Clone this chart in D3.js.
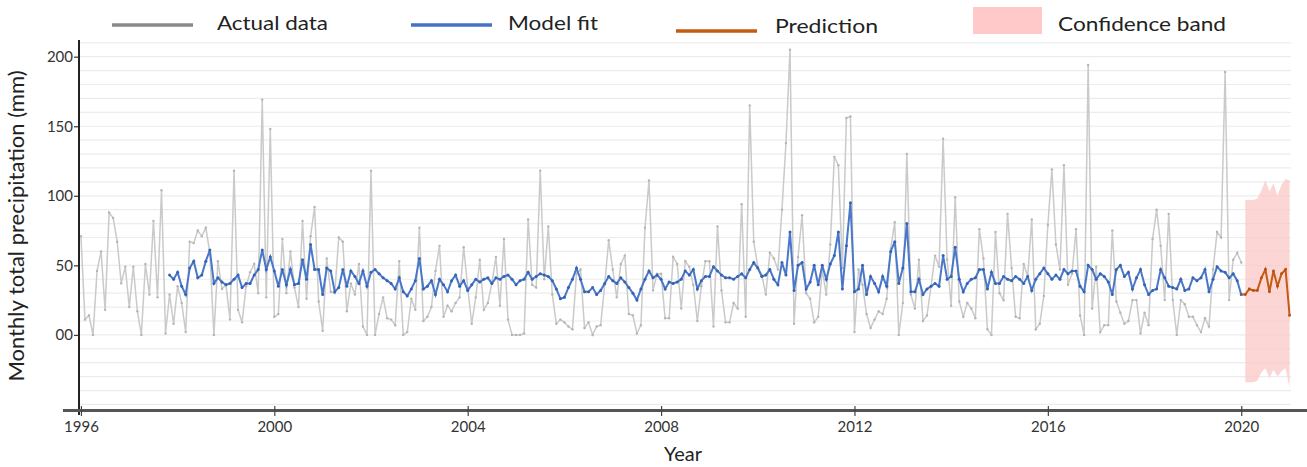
<!DOCTYPE html>
<html><head><meta charset="utf-8">
<script src="https://cdn.jsdelivr.net/npm/d3@7"></script>
<style>body{margin:0;background:#fff}svg{display:block}</style>
</head><body>
<svg id="c" width="1307" height="467"></svg>
<script>
// ---- data (monthly, index 0 = Jan 1996) ----
const startYear = 1996;
const actual = [
71,11,14,0,46,60,18,88,84,67,37,49,20,49,17,0,51,29,82,27,104,1,29,8,35,23,2,67,66,75,71,77,59,0,53,33,36,11,118,18,9,35,45,51,30,169,27,148,
13,15,69,30,60,34,20,82,26,71,92,24,3,55,31,30,70,67,17,37,29,51,6,0,118,0,15,27,12,11,7,53,0,2,26,18,77,10,13,20,46,64,13,21,17,23,27,63,34,8,
27,54,18,23,37,56,21,69,11,0,0,0,1,83,36,34,118,40,78,29,8,11,9,6,4,44,47,5,9,0,6,7,36,68,47,27,51,57,15,14,1,7,77,111,32,44,44,12,12,56,51,
19,53,49,36,10,35,53,53,6,78,32,9,9,23,19,94,13,165,67,49,43,29,59,55,47,90,138,205,8,56,86,30,26,9,13,47,29,65,128,122,48,156,157,2,47,36,15,5,11,17,15,
26,62,81,0,23,130,29,19,54,10,14,35,57,49,141,54,21,99,24,13,23,19,12,76,55,4,0,74,30,25,87,48,13,12,51,42,83,4,8,28,79,119,65,47,122,36,44,76,14,0,
194,19,49,2,7,7,75,24,16,8,10,25,25,1,16,7,69,90,64,25,87,25,0,25,22,13,13,7,2,12,6,47,74,70,189,25,54,59,52
];
const fitStart = 22;
const fit = [
43,40,45,35,29,48,53,41,43,53,61,37,41,38,36,37,40,43,34,37,37,43,47,61,47,56,
46,35,47,36,47,36,37,54,40,65,47,47,29,48,46,31,34,47,35,46,42,37,46,35,45,47,44,41,39,37,33,41,31,28,33,39,55,33,35,39,29,40,36,31,39,43,35,39,32,36,
40,38,40,41,37,41,40,42,43,40,36,39,40,45,40,42,44,43,42,39,33,26,27,34,40,48,40,31,31,34,29,32,37,42,39,37,41,38,34,30,25,33,40,46,41,43,40,33,38,37,38,
40,46,43,47,33,39,42,42,49,46,43,41,41,40,42,44,41,47,52,48,42,43,47,40,36,52,43,74,32,50,52,33,38,50,36,50,40,51,57,74,33,64,95,31,33,50,29,42,37,31,
42,35,60,67,37,48,80,31,31,40,29,33,35,37,35,57,40,42,63,40,31,37,40,41,47,47,33,45,37,37,42,40,39,42,40,37,42,32,40,44,48,44,40,43,40,47,44,46,46,35,31,
50,47,40,44,42,38,29,47,50,42,45,33,41,47,36,29,32,33,47,41,35,34,33,40,32,33,41,39,41,47,31,40,49,46,45,41,44,39,29
];
const predStart = 289;
const prediction = [29,33,32,32,41,47,31,46,35,44,47,14];
const bandStart = 289;
const bandUpper = [97,97,97,98,104,111,103,109,100,108,112,111];
const bandLower = [-34,-34,-34,-33,-27,-24,-31,-25,-30,-26,-24,-38];
const yTicks = [200,150,100,50,0];
const yTickLabels = ["200","150","100","50","00"];
const xTicks = [1996,2000,2004,2008,2012,2016,2020];
const legendLabels = ["Actual data","Model fit","Prediction","Confidence band"];
const yTitle = "Monthly total precipitation (mm)";
const xTitle = "Year";

// ---- drawing ----
const svg = d3.select("#c");
const x = d3.scaleLinear().domain([1995.96, 2021.05]).range([79, 1292]);
const y = d3.scaleLinear().domain([-54, 212]).range([410, 40]);
const t = i => startYear + i / 12;
const FONT = "Lato, 'Open Sans', sans-serif";

// gridlines
svg.append("g").selectAll("line").data(d3.range(-50, 211, 10)).join("line")
  .attr("x1", 80).attr("x2", 1291).attr("y1", d => y(d)).attr("y2", d => y(d))
  .attr("stroke", "#ececec").attr("stroke-width", 1.2);

// confidence band
const bandData = bandUpper.map((u, i) => ({t: t(bandStart + i), u, l: bandLower[i]}));
svg.append("path").datum(bandData)
  .attr("d", d3.area().x(d => x(d.t)).y0(d => y(d.l)).y1(d => y(d.u)))
  .attr("fill", "#fbcaca").attr("opacity", 0.8);

// actual
const aData = actual.map((v, i) => ({t: t(i), v}));
const line = d3.line().x(d => x(d.t)).y(d => y(d.v));
svg.append("path").datum(aData).attr("d", line)
  .attr("fill", "none").attr("stroke", "#cacaca").attr("stroke-width", 1.5);
svg.append("g").selectAll("circle").data(aData).join("circle")
  .attr("cx", d => x(d.t)).attr("cy", d => y(d.v)).attr("r", 1.2).attr("fill", "#b5b5b5");

// fit
const fData = fit.map((v, i) => ({t: t(fitStart + i), v}));
svg.append("path").datum(fData).attr("d", line)
  .attr("fill", "none").attr("stroke", "#4a78c8").attr("stroke-width", 2);
svg.append("g").selectAll("circle").data(fData).join("circle")
  .attr("cx", d => x(d.t)).attr("cy", d => y(d.v)).attr("r", 1.5).attr("fill", "#3563b3");

// prediction (joined to the last fitted point)
const pData = [fData[fData.length - 1]].concat(prediction.map((v, i) => ({t: t(predStart + i), v})));
svg.append("path").datum(pData).attr("d", line)
  .attr("fill", "none").attr("stroke", "#c55a11").attr("stroke-width", 2);
svg.append("g").selectAll("circle").data(pData.slice(1)).join("circle")
  .attr("cx", d => x(d.t)).attr("cy", d => y(d.v)).attr("r", 1.4).attr("fill", "#b54f0c");

// y axis
const yAxis = d3.axisLeft(y).tickValues(yTicks).tickSize(4).tickPadding(1)
  .tickFormat((d, i) => yTickLabels[i]);
const gy = svg.append("g").attr("transform", "translate(78,0)").call(yAxis);
gy.select(".domain").remove();
gy.selectAll(".tick line").attr("stroke", "#444").attr("stroke-width", 1.3);
gy.selectAll("text").attr("font-family", FONT).attr("font-size", 15).attr("fill", "#333");
svg.append("line").attr("x1", 79).attr("x2", 79).attr("y1", 40).attr("y2", 415)
  .attr("stroke", "#222").attr("stroke-width", 2);

// x axis
svg.append("line").attr("x1", 63).attr("x2", 1307).attr("y1", 410.5).attr("y2", 410.5)
  .attr("stroke", "#555").attr("stroke-width", 3);
const xAxis = d3.axisBottom(x).tickValues(xTicks).tickFormat(d3.format("d")).tickSize(10).tickPadding(4);
const gx = svg.append("g").attr("transform", "translate(0,406)").call(xAxis);
gx.select(".domain").remove();
gx.selectAll(".tick line").attr("stroke", "#444").attr("stroke-width", 1.2);
gx.selectAll("text").attr("font-family", FONT).attr("font-size", 15).attr("fill", "#333")
  .attr("y", 26).attr("dy", 0);

// titles
svg.append("text").attr("transform", "translate(24,226) rotate(-90)")
  .attr("text-anchor", "middle").attr("font-family", FONT)
  .attr("font-size", 22).attr("fill", "#222").text(yTitle);
svg.append("text").attr("x", 683).attr("y", 461).attr("text-anchor", "middle")
  .attr("font-family", FONT).attr("font-size", 20).attr("fill", "#222").text(xTitle);

// legend
const lg = svg.append("g").attr("font-family", FONT).attr("font-size", 20).attr("fill", "#222");
const legendLines = [
  {x1: 112, x2: 193, y: 25, c: "#8a8a8a", tx: 217, ty: 30, w: 111},
  {x1: 411, x2: 492, y: 25, c: "#4472c4", tx: 508, ty: 30, w: 90},
  {x1: 676, x2: 757, y: 31, c: "#c55a11", tx: 775, ty: 33, w: 103}
];
legendLines.forEach((d, i) => {
  lg.append("line").attr("x1", d.x1).attr("x2", d.x2).attr("y1", d.y).attr("y2", d.y)
    .attr("stroke", d.c).attr("stroke-width", 3.5);
  lg.append("text").attr("x", d.tx).attr("y", d.ty).attr("textLength", d.w)
    .attr("lengthAdjust", "spacingAndGlyphs").text(legendLabels[i]);
});
lg.append("rect").attr("x", 973).attr("y", 7).attr("width", 69).attr("height", 27).attr("fill", "#ffc9c9");
lg.append("text").attr("x", 1058).attr("y", 31).attr("textLength", 168)
  .attr("lengthAdjust", "spacingAndGlyphs").text(legendLabels[3]);
</script>
</body></html>
